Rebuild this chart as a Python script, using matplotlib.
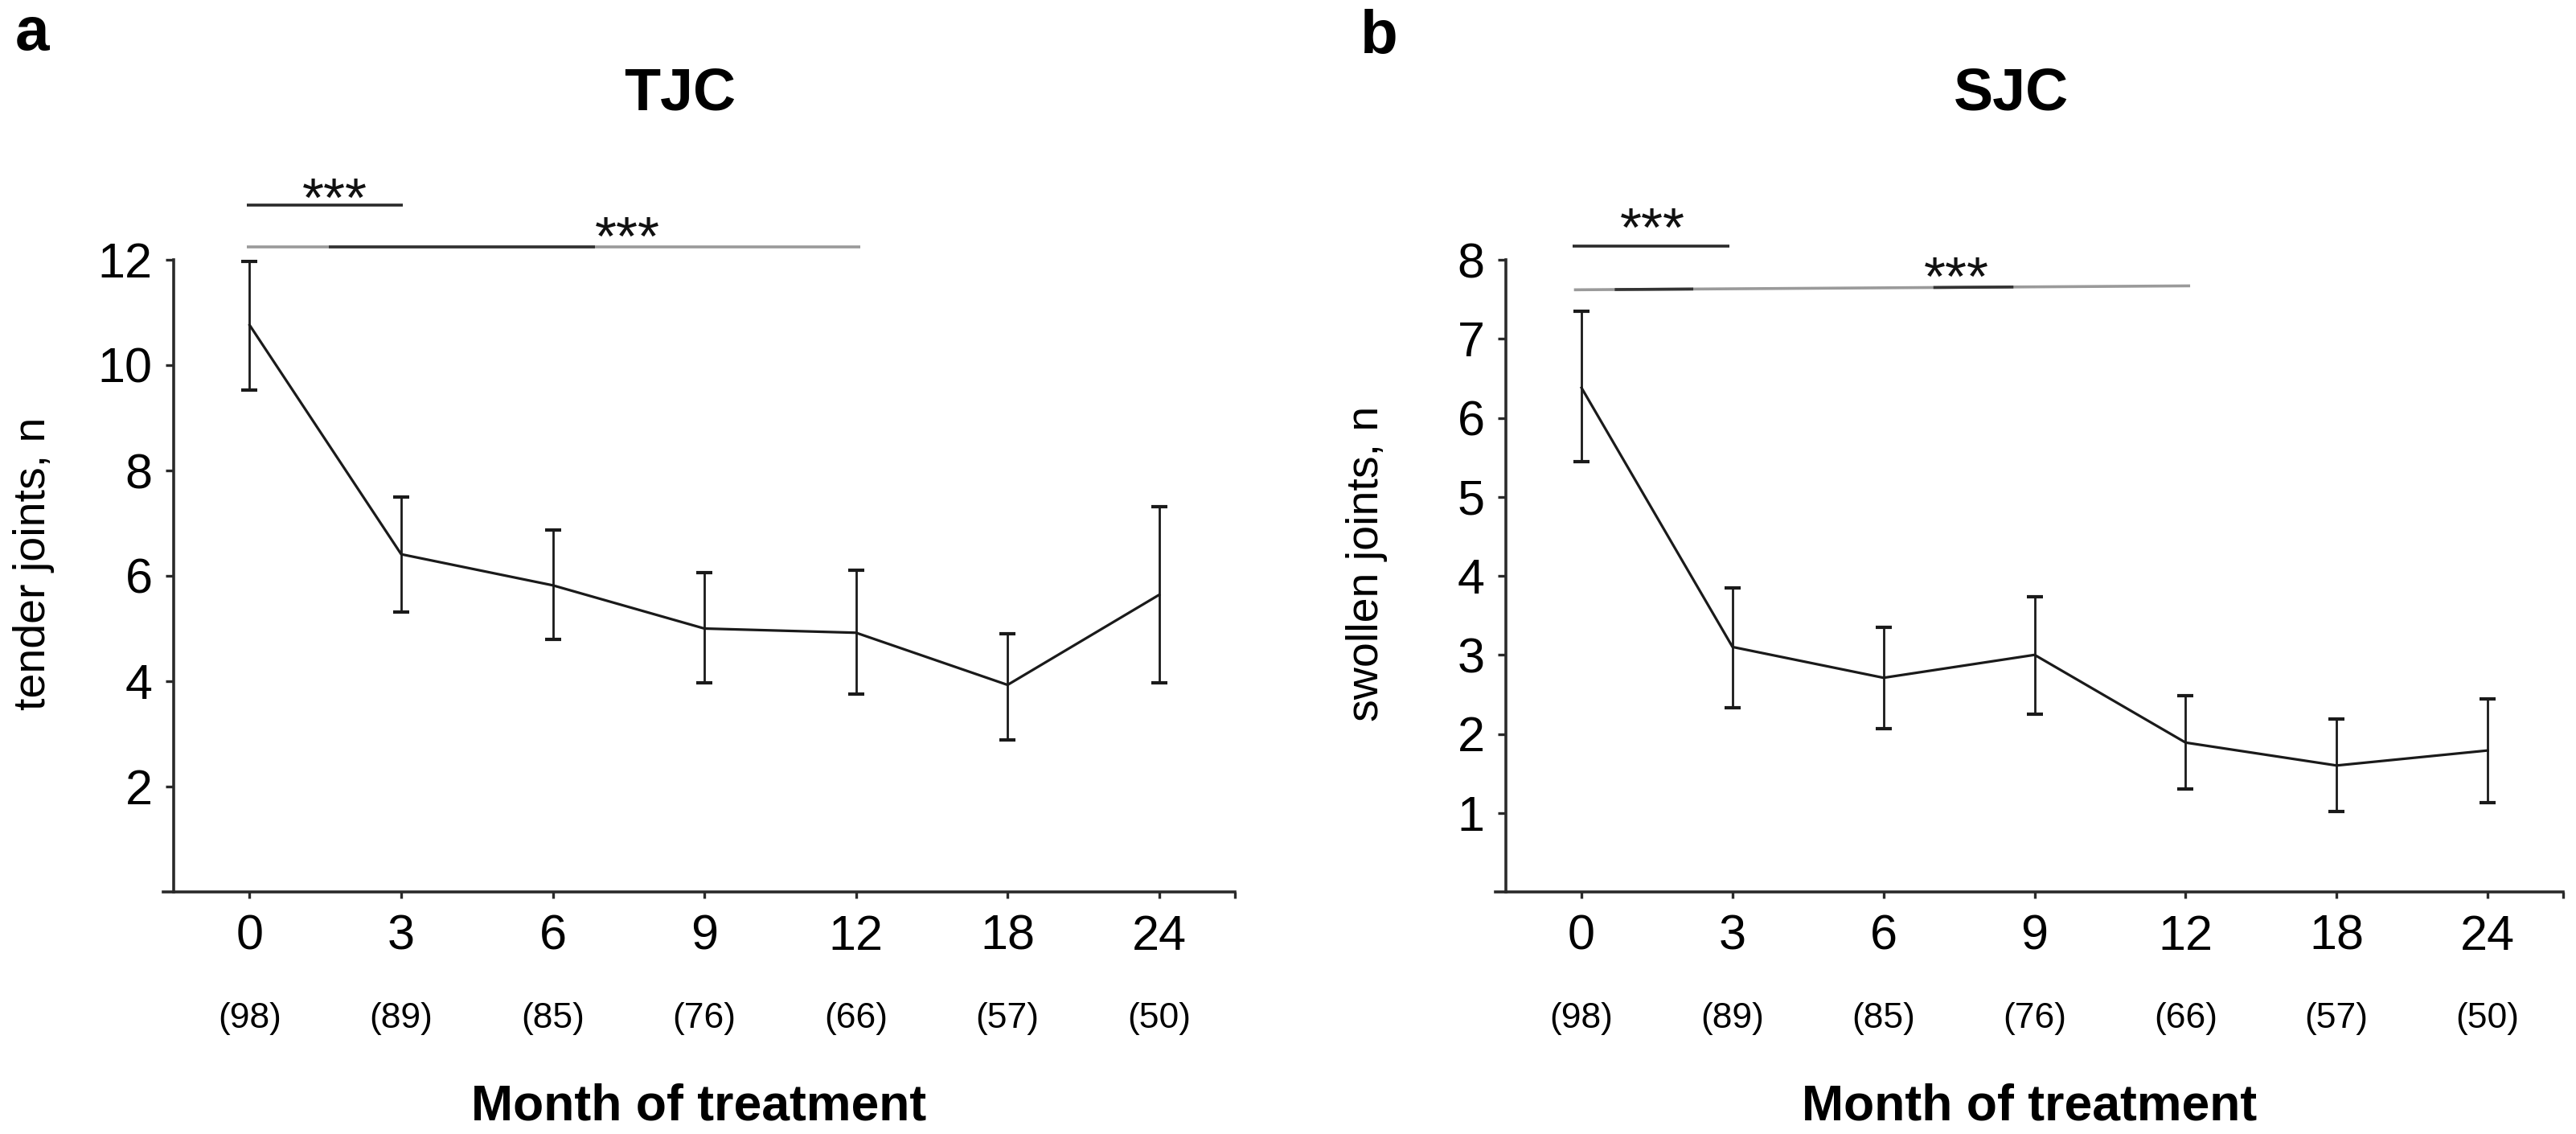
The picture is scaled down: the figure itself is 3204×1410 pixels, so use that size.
import matplotlib
matplotlib.use("Agg")
import matplotlib.pyplot as plt

plt.rcParams['font.family'] = ['Liberation Sans', 'DejaVu Sans']

# ---------------- data ----------------
months = ["0", "3", "6", "9", "12", "18", "24"]
n_patients = ["(98)", "(89)", "(85)", "(76)", "(66)", "(57)", "(50)"]

tjc_mean = [10.76, 6.41, 5.82, 5.00, 4.92, 3.93, 5.64]
tjc_low = [9.53, 5.31, 4.80, 3.97, 3.75, 2.89, 3.97]
tjc_high = [11.97, 7.50, 6.87, 6.06, 6.10, 4.90, 7.31]

sjc_mean = [6.38, 3.10, 2.71, 3.00, 1.89, 1.60, 1.79]
sjc_low = [5.45, 2.33, 2.07, 2.25, 1.30, 1.02, 1.13]
sjc_high = [7.35, 3.85, 3.35, 3.74, 2.48, 2.19, 2.44]

tjc_yticks = [2, 4, 6, 8, 10, 12]
sjc_yticks = [1, 2, 3, 4, 5, 6, 7, 8]

# significance annotations: (x_start, x_end, y_start, y_end, star_x, star_y)
tjc_sig = [(-0.02, 1.01, 13.04, 13.04, 0.56, 12.82),
           (-0.02, 4.03, 12.24, 12.24, 2.49, 12.10)]
sjc_sig = [(-0.06, 0.98, 8.17, 8.17, 0.47, 8.17),
           (-0.05, 4.03, 7.62, 7.67, 2.48, 7.55)]
# darker segments of the long bars (rendering shading)
tjc_dark = [(0.52, 2.28)]
sjc_dark = [(0.22, 0.74), (2.33, 2.86)]

# ---------------- figure ----------------
W, H = 3205, 1410
fig = plt.figure(figsize=(W / 100, H / 100), dpi=100)

ax_bottom = 1 - 1109 / H
ax_height = 786 / H
axL = fig.add_axes([203 / W, ax_bottom, (1536 - 203) / W, ax_height])
axR = fig.add_axes([1860 / W, ax_bottom, (3188 - 1860) / W, ax_height])

LINE = "#1a1a1a"
AXC = "#2a2a2a"


def draw_panel(ax, mean, low, high, ymax, yticks, title, title_x, sig, dark, ylabel_x, ylabel):
    x = list(range(len(months)))
    yerr = [[m - l for m, l in zip(mean, low)], [h - m for m, h in zip(mean, high)]]
    ax.errorbar(x, mean, yerr=yerr, color=LINE, lw=2.3, elinewidth=2.0,
                capsize=7.2, capthick=3.0, zorder=3)
    ax.set_xlim(-0.57, 6.5)
    ax.set_ylim(0, ymax)
    for s in ["top", "right"]:
        ax.spines[s].set_visible(False)
    ax.spines['left'].set_position(('data', -0.5))
    ax.spines['left'].set_bounds(0, ymax)
    for s in ["left", "bottom"]:
        ax.spines[s].set_color(AXC)
        ax.spines[s].set_linewidth(2.6)
    ax.set_xticks(x + [6.5])
    ax.set_xticklabels(months + [""])
    ax.set_yticks(yticks)
    ax.set_yticklabels([str(t) for t in yticks])
    ax.tick_params(axis='x', direction='out', length=6, width=2.4, color=AXC,
                   labelsize=44, pad=14)
    ax.tick_params(axis='y', direction='out', length=7, width=2.4, color=AXC,
                   labelsize=44, pad=12)
    # patient counts
    for xi, lab in zip(x, n_patients):
        ax.text(xi, -0.215, lab, transform=ax.get_xaxis_transform(),
                ha='center', va='baseline', fontsize=32, clip_on=False)
    ax.text(0.5, -0.361, "Month of treatment", transform=ax.transAxes,
            ha='center', va='baseline', fontsize=45, fontweight='bold')
    ax.text(title_x, 1.237, title, transform=ax.transAxes, ha='center',
            va='baseline', fontsize=53, fontweight='bold')
    # significance bars
    for i, (x0, x1, y0, y1, sx, sy) in enumerate(sig):
        col = AXC if i == 0 else "#9a9a9a"
        ax.plot([x0, x1], [y0, y1], color=col, lw=2.6, clip_on=False,
                solid_capstyle='butt')
        if i == 1:
            for d0, d1 in dark:
                f0 = (d0 - x0) / (x1 - x0)
                f1 = (d1 - x0) / (x1 - x0)
                ax.plot([d0, d1], [y0 + f0 * (y1 - y0), y0 + f1 * (y1 - y0)],
                        color="#333333", lw=2.6, clip_on=False, solid_capstyle='butt')
        ax.text(sx, sy, "***", ha='center', va='baseline', fontsize=50,
                color="#111111", clip_on=False)
    fig.text(ylabel_x, 0.503, ylabel, rotation=90, ha='center', va='center',
             fontsize=40)


draw_panel(axL, tjc_mean, tjc_low, tjc_high, 12, tjc_yticks, "TJC", 0.482,
           tjc_sig, tjc_dark, 42 / W, "tender joints, n")
draw_panel(axR, sjc_mean, sjc_low, sjc_high, 8, sjc_yticks, "SJC", 0.483,
           sjc_sig, sjc_dark, 1700 / W, "swollen joints, n")

fig.text(19 / W, 1 - 62 / H, "a", ha='left', va='baseline', fontsize=55, fontweight='bold')
fig.text(1692 / W, 1 - 66 / H, "b", ha='left', va='baseline', fontsize=55, fontweight='bold')

fig.savefig("out.png", dpi=100, facecolor='white')
